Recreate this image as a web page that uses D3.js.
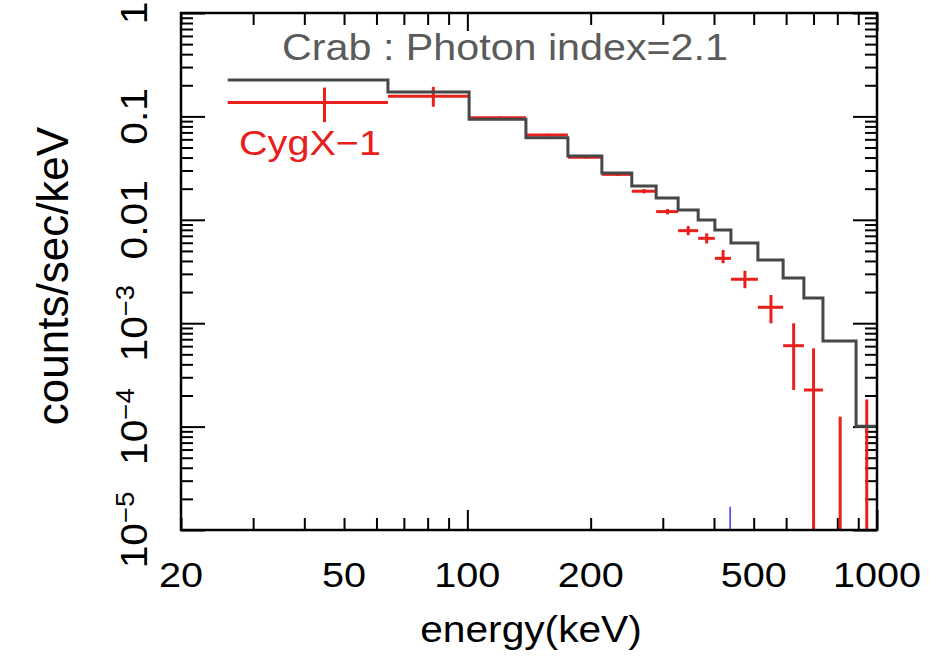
<!DOCTYPE html>
<html>
<head>
<meta charset="utf-8">
<script src="https://cdn.jsdelivr.net/npm/d3@7"></script>
<style>
  body { margin: 0; background: #fff; }
  svg { display: block; }
  text { font-family: "Liberation Sans", Arial, Helvetica, sans-serif; }
</style>
</head>
<body>
<div id="chart"></div>
<script>
// energy bins (keV) shared by the Crab model and the CygX-1 data
const binEdges = [26, 64, 101, 139, 176, 213, 252, 289, 327, 366, 402, 440, 512, 590, 663, 738, 889, 1000];

// Crab model, photon index 2.1 (counts/sec/keV per bin)
const crabRate = [0.225, 0.172, 0.094, 0.062, 0.0414, 0.0284, 0.0212, 0.01625, 0.01245,
                  0.00996, 0.00797, 0.00597, 0.00409, 0.00273, 0.00175, 0.000673, 0.000101];

// CygX-1 points (null = below the plot)
const cygEnergy = [44.8, 82.6, 120, 158, 195, 233, 270, 308, 346, 384, 421, 476, 551, 626, 700, 813, 944];
const cygRate = [0.136, 0.157, 0.097, 0.066, 0.0402, 0.0275, 0.0189, 0.0120, 0.00785, 0.00662,
                 0.00424, 0.00266, 0.001425, 0.000606, 0.000226, null, null];
const cygLow = [0.088, 0.124, 0.094, 0.064, 0.039, 0.0265, 0.0180, 0.0113, 0.0071, 0.0059,
                0.0038, 0.00218, 0.000997, 0.000226, 0, 0, 0];
const cygHigh = [0.19, 0.193, 0.100, 0.068, 0.0415, 0.0285, 0.0198, 0.0127, 0.0087, 0.0074,
                 0.0051, 0.00322, 0.001875, 0.000998, 0.000571, 0.000125, 0.000183];

// small blue mark on the energy axis
const markerEnergy = [438];

// tick labels
const xTickLabels = [20, 50, 100, 200, 500, 1000];
const yTickValues = [1, 0.1, 0.01, 1e-3, 1e-4, 1e-5];
const yTickBase = ["1", "0.1", "0.01", "10", "10", "10"];
const yTickExp = ["", "", "", "\u22123", "\u22124", "\u22125"];

const W = 937, H = 662;
const box = {left: 181, right: 877, top: 13, bottom: 530};
const red = "#e8201c", grey = "#474747";
const sx = 1.1; // the original lettering is a bit wide

const svg = d3.select("#chart").append("svg")
    .attr("width", W)
    .attr("height", H);

const x = d3.scaleLog().domain([20, 1000]).range([box.left, box.right]);
const y = d3.scaleLog().domain([1e-5, 1]).range([box.bottom, box.top]);
const yMin = y.domain()[0];

// ticks on all four sides, pointing inward
const isDecade = v => Math.abs(Math.log10(v) - Math.round(Math.log10(v))) < 1e-9;
const xMajor = x.ticks().filter(isDecade), xMinor = x.ticks().filter(v => !isDecade(v));
const yMajor = y.ticks().filter(isDecade), yMinor = y.ticks().filter(v => !isDecade(v));

function tickGroup(axis, tx, ty) {
    let g = svg.append("g")
        .attr("transform", `translate(${tx},${ty})`)
        .call(axis.tickFormat(""));
    g.select(".domain").remove();
    g.selectAll(".tick line").attr("stroke", "#000").attr("stroke-width", 2);
}
tickGroup(d3.axisBottom(x).tickValues(xMinor).tickSizeInner(-12).tickSizeOuter(0), 0, box.bottom);
tickGroup(d3.axisBottom(x).tickValues(xMajor).tickSizeInner(-20).tickSizeOuter(0), 0, box.bottom);
tickGroup(d3.axisTop(x).tickValues(xMinor).tickSizeInner(-12).tickSizeOuter(0), 0, box.top);
tickGroup(d3.axisTop(x).tickValues(xMajor).tickSizeInner(-18).tickSizeOuter(0), 0, box.top);
tickGroup(d3.axisLeft(y).tickValues(yMinor).tickSizeInner(-12).tickSizeOuter(0), box.left, 0);
tickGroup(d3.axisLeft(y).tickValues(yMajor).tickSizeInner(-24).tickSizeOuter(0), box.left, 0);
tickGroup(d3.axisRight(y).tickValues(yMinor).tickSizeInner(-12).tickSizeOuter(0), box.right, 0);
tickGroup(d3.axisRight(y).tickValues(yMajor).tickSizeInner(-24).tickSizeOuter(0), box.right, 0);

// plot area clip
svg.append("clipPath").attr("id", "clip")
    .append("rect")
    .attr("x", box.left).attr("y", box.top)
    .attr("width", box.right - box.left).attr("height", box.bottom - box.top);

let plot = svg.append("g").attr("clip-path", "url(#clip)");

// blue mark
plot.selectAll(".marker").data(markerEnergy).enter().append("line")
    .attr("x1", d => x(d)).attr("x2", d => x(d))
    .attr("y1", y(yMin)).attr("y2", y(1.68e-5))
    .attr("stroke", "#3a3aff").attr("stroke-width", 1.5);

// CygX-1 error crosses
let cyg = cygEnergy.map((e, i) => ({
    e: e, v: cygRate[i], lo: Math.max(cygLow[i], yMin), hi: cygHigh[i],
    x0: binEdges[i], x1: binEdges[i + 1]
}));

plot.selectAll(".xerr").data(cyg.filter(d => d.v !== null)).enter().append("line")
    .attr("x1", d => x(d.x0)).attr("x2", d => x(d.x1))
    .attr("y1", d => y(d.v)).attr("y2", d => y(d.v))
    .attr("stroke", red).attr("stroke-width", 3);

plot.selectAll(".yerr").data(cyg).enter().append("line")
    .attr("x1", d => x(d.e)).attr("x2", d => x(d.e))
    .attr("y1", d => y(d.hi)).attr("y2", d => y(d.lo))
    .attr("stroke", red).attr("stroke-width", 3);

// Crab model step line
let steps = crabRate.map((v, i) => [binEdges[i], v]);
steps.push([binEdges[binEdges.length - 1], crabRate[crabRate.length - 1]]);

plot.append("path")
    .datum(steps)
    .attr("fill", "none")
    .attr("stroke", grey)
    .attr("stroke-width", 3)
    .attr("d", d3.line().x(d => x(d[0])).y(d => y(d[1])).curve(d3.curveStepAfter));

// frame
svg.append("rect")
    .attr("x", box.left).attr("y", box.top)
    .attr("width", box.right - box.left).attr("height", box.bottom - box.top)
    .attr("fill", "none").attr("stroke", "#000").attr("stroke-width", 2.5);

// text helper: stretched a little along the reading direction
function label(px, py, rot, size, anchor, fill) {
    return svg.append("text")
        .attr("transform", `translate(${px},${py}) rotate(${rot}) scale(${sx},1)`)
        .attr("font-size", size)
        .attr("text-anchor", anchor)
        .attr("fill", fill);
}

// x tick labels
xTickLabels.forEach(v => {
    label(x(v), 587, 0, 36, "middle", "#000").text(v);
});

// y tick labels, rotated, with superscript exponents
yTickValues.forEach((v, i) => {
    let t = label(147, y(v), -90, 37, "middle", "#000");
    t.append("tspan").text(yTickBase[i]);
    if (yTickExp[i]) {
        t.append("tspan").attr("font-size", 25).attr("dy", -13).text(yTickExp[i]);
    }
});

// axis titles
label(531, 642, 0, 37, "middle", "#000").text("energy(keV)");
svg.append("text")
    .attr("transform", `translate(68,276) rotate(-90)`)
    .attr("font-size", 44)
    .attr("text-anchor", "middle")
    .text("counts/sec/keV");

// annotations
label(505, 60, 0, 37.5, "middle", "#5b5b5b").text("Crab : Photon index=2.1");
label(239, 155, 0, 36, "start", red).text("CygX\u22121");
</script>
</body>
</html>
